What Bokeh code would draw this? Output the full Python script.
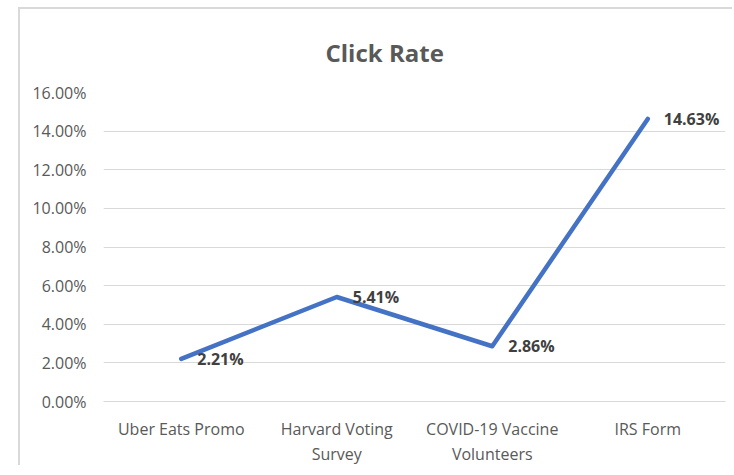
from bokeh.plotting import figure
from bokeh.models import Range1d, FixedTicker, NumeralTickFormatter, ColumnDataSource, LinearAxis
from bokeh.embed import file_html
from bokeh.resources import INLINE
from bokeh.core.properties import value

categories = ["Uber Eats Promo", "Harvard Voting Survey", "COVID-19 Vaccine Volunteers", "IRS Form"]
label_line1 = ["Uber Eats Promo", "Harvard Voting", "COVID-19 Vaccine", "IRS Form"]
label_line2 = ["", "Survey", "Volunteers", ""]
click_rate = [0.0221, 0.0541, 0.0286, 0.1463]
y_ticks = [0.0, 0.02, 0.04, 0.06, 0.08, 0.10, 0.12, 0.14, 0.16]
title_text = "Click Rate"

FONT = "Open Sans"
LINE_COLOR = "#4472C4"
GRID = "#d9d9d9"
TXT = "#595959"

# category centres on a numeric scale: one unit per category
xpos = [i + 0.5 for i in range(len(categories))]

p = figure(
    x_range=Range1d(0, len(categories)),
    y_range=Range1d(0, 0.16),
    width=714, height=458,
    output_backend="svg", toolbar_location=None,
    min_border_left=83, min_border_right=9, min_border_top=80, min_border_bottom=5,
)
p.styles = {"border-left": "2px solid #d9d9d9", "border-top": "2px solid #d9d9d9",
            "margin-left": "18px", "margin-top": "7px"}
p.outline_line_color = None
p.background_fill_color = "white"
p.border_fill_color = "white"

p.title.text = title_text
p.title.align = "left"
p.title.offset = 222
p.title.standoff = 48
p.title.text_font = FONT
p.title.text_font_size = "24px"
p.title.text_font_style = "bold"
p.title.text_color = TXT

p.xgrid.grid_line_color = None
p.ygrid.grid_line_color = GRID
p.ygrid.grid_line_width = 1

p.yaxis.ticker = FixedTicker(ticks=y_ticks)
p.yaxis.formatter = NumeralTickFormatter(format="0.00%")
p.yaxis.axis_line_color = None
p.yaxis.major_tick_line_color = None
p.yaxis.minor_tick_line_color = None
p.yaxis.major_tick_out = 0
p.yaxis.major_label_standoff = 17
p.yaxis.major_label_text_font = FONT
p.yaxis.major_label_text_font_size = "16px"
p.yaxis.major_label_text_color = TXT

def style_xaxis(ax, standoff):
    ax.ticker = FixedTicker(ticks=xpos)
    ax.major_tick_line_color = None
    ax.minor_tick_line_color = None
    ax.major_tick_out = 0
    ax.major_tick_in = 0
    ax.major_label_standoff = standoff
    ax.major_label_text_font = FONT
    ax.major_label_text_font_size = "16px"
    ax.major_label_text_color = TXT

xa = p.xaxis[0]
style_xaxis(xa, 16)
xa.axis_line_color = GRID
xa.major_label_overrides = dict(zip(xpos, label_line1))

xa2 = LinearAxis()
style_xaxis(xa2, 0)
xa2.axis_line_color = None
xa2.major_label_overrides = dict(zip(xpos, label_line2))
p.add_layout(xa2, "below")

src = ColumnDataSource(dict(
    x=xpos,
    y=click_rate,
    label=["{:.2f}%".format(v * 100) for v in click_rate],
))
p.line("x", "y", source=src, line_color=LINE_COLOR, line_width=4.5, line_cap="round", line_join="round")
p.text("x", "y", text="label", source=src, x_offset=16,
       text_align="left", text_baseline="middle",
       text_font=value(FONT), text_font_size="16px", text_font_style="bold",
       text_color="#404040")

open("out.html", "w").write(file_html(p, INLINE))
